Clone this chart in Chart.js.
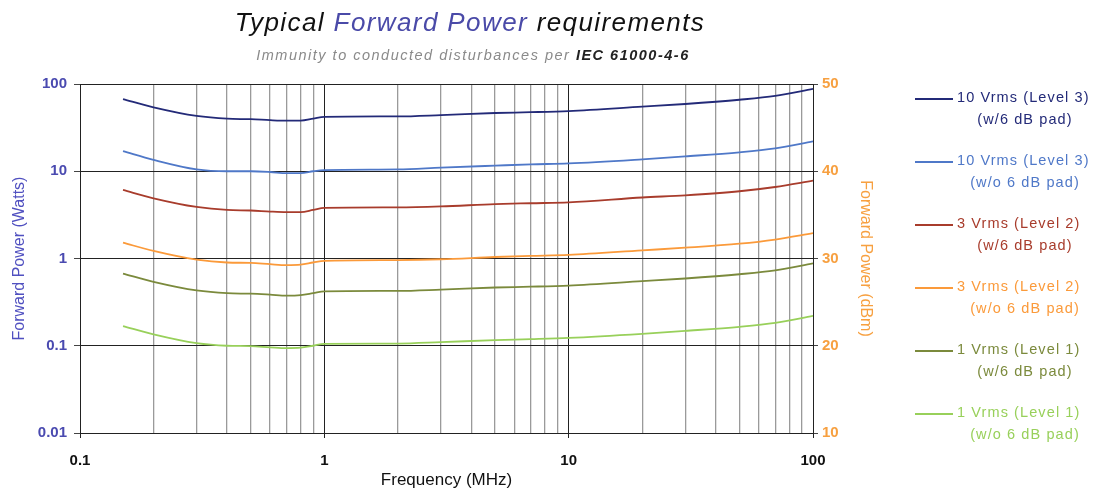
<!DOCTYPE html>
<html><head><meta charset="utf-8">
<script src="https://cdn.jsdelivr.net/npm/chart.js@4/dist/chart.umd.min.js"></script>
<style>
html,body{margin:0;padding:0;background:#fff;width:1101px;height:495px;overflow:hidden;font-family:"Liberation Sans",Arial,sans-serif;}
#wrap{position:absolute;left:0;top:0;width:1101px;height:495px;}
#title{position:absolute;left:0;width:940px;top:7px;text-align:center;font-size:26px;letter-spacing:1.4px;font-style:italic;color:#111;}
#title .b{color:#4a4aa8;}
#sub{position:absolute;left:0;width:946px;top:47px;text-align:center;font-size:14.5px;letter-spacing:1.5px;font-style:italic;color:#8a8a8a;}
#sub b{color:#222;}
#legend{position:absolute;left:915px;top:88px;width:186px;}
.li{position:relative;height:63px;font-size:14.5px;letter-spacing:1.1px;}
.li .ln{position:absolute;left:0;top:10px;width:38px;height:2px;}
.li .t1{position:absolute;left:42px;top:1px;white-space:nowrap;}
.li .t2{position:absolute;left:42px;top:23px;width:136px;text-align:center;white-space:nowrap;}
</style></head>
<body>
<div id="wrap"><canvas id="c" width="1101" height="495"></canvas></div>
<div id="title">Typical <span class="b">Forward Power</span> requirements</div>
<div id="sub">Immunity to conducted disturbances per <b>IEC 61000-4-6</b></div>
<div id="legend"></div>
<script>
// Data (frequency in MHz, forward power in Watts)
const freqMHz = [0.15,0.2,0.3,0.4,0.5,0.6,0.7,0.8,0.9,1,2,3,5,7,10,20,30,50,70,100];
const lvl3With6dB    = [67,54,43,40,39.5,38.5,38,38,40,42,42.5,44,46.5,47.5,49,55,59,66,73,88];
const lvl3Without6dB = [17,13.5,10.5,10,10,9.8,9.5,9.5,10,10.3,10.5,11,11.6,12,12.3,13.7,14.8,16.5,18.3,22];
const lvl2With6dB    = [6.1,4.9,3.9,3.6,3.55,3.45,3.4,3.4,3.6,3.8,3.85,3.95,4.2,4.3,4.4,5.0,5.3,5.9,6.6,7.8];
const lvl2Without6dB = [1.52,1.22,0.97,0.9,0.89,0.86,0.84,0.85,0.9,0.94,0.96,0.98,1.04,1.07,1.1,1.24,1.33,1.48,1.65,1.95];
const lvl1With6dB    = [0.67,0.54,0.43,0.40,0.395,0.385,0.375,0.38,0.40,0.42,0.425,0.44,0.465,0.475,0.49,0.55,0.59,0.66,0.73,0.88];
const lvl1Without6dB = [0.168,0.135,0.107,0.1,0.099,0.096,0.094,0.095,0.1,0.105,0.106,0.11,0.116,0.119,0.123,0.137,0.148,0.165,0.183,0.22];

const seriesNames = [
  ["10 Vrms (Level 3)","(w/6 dB pad)"],
  ["10 Vrms (Level 3)","(w/o 6 dB pad)"],
  ["3 Vrms (Level 2)","(w/6 dB pad)"],
  ["3 Vrms (Level 2)","(w/o 6 dB pad)"],
  ["1 Vrms (Level 1)","(w/6 dB pad)"],
  ["1 Vrms (Level 1)","(w/o 6 dB pad)"]
];
const seriesColors = ["#232a78","#4f78c8","#a83c2c","#fb9a3a","#7b8a3c","#98d05a"];
const seriesData = [lvl3With6dB,lvl3Without6dB,lvl2With6dB,lvl2Without6dB,lvl1With6dB,lvl1Without6dB];

const xTickValues = [0.1,0.2,0.3,0.4,0.5,0.6,0.7,0.8,0.9,1,2,3,4,5,6,7,8,9,10,20,30,40,50,60,70,80,90,100];
const xTickLabels = ["0.1","1","10","100"];
const yTickValues = [0.01,0.1,1,10,100];
const yTickLabels = ["0.01","0.1","1","10","100"];
const dBmTicks = [10,20,30,40,50];

function isDecade(v){const l=Math.log10(v);return Math.abs(l-Math.round(l))<1e-6;}

// legend
const lg=document.getElementById('legend');
seriesNames.forEach((n,i)=>{
  const d=document.createElement('div');d.className='li';d.style.color=seriesColors[i];
  d.innerHTML='<div class="ln" style="background:'+seriesColors[i]+'"></div><div class="t1">'+n[0]+'</div><div class="t2">'+n[1]+'</div>';
  lg.appendChild(d);
});

const datasets = seriesData.map((arr,i)=>({
  label: seriesNames[i].join(' '),
  data: arr.map((v,j)=>({x:freqMHz[j],y:v})),
  borderColor: seriesColors[i],
  backgroundColor: seriesColors[i],
  borderWidth: 1.8,
  pointRadius: 0,
  tension: 0.35,
  cubicInterpolationMode: 'monotone',
  yAxisID: 'y'
}));

const ff = '"Liberation Sans", Arial, sans-serif';
const font = {family:ff, size:15, weight:'bold'};

new Chart(document.getElementById('c'),{
  type:'line',
  data:{datasets},
  options:{
    responsive:false,
    animation:false,
    layout:{padding:{left:6,top:84,right:222,bottom:0}},
    plugins:{legend:{display:false},title:{display:false},tooltip:{enabled:false}},
    scales:{
      x:{
        type:'logarithmic', min:0.1, max:100, position:'bottom',
        afterBuildTicks(s){s.ticks=xTickValues.map(v=>({value:v}));},
        afterFit(s){s.height=62;},
        ticks:{autoSkip:false,maxRotation:0,color:'#111',font,padding:14,
          callback(v){return isDecade(v)? xTickLabels[Math.round(Math.log10(v))+1] : '';}},
        grid:{color:(c)=>isDecade(c.tick.value)?'#222':'#9a9a9a',lineWidth:(c)=>isDecade(c.tick.value)?1:1.3,tickLength:5,
          tickColor:(c)=>isDecade(c.tick.value)?'#222':'rgba(0,0,0,0)'},
        border:{color:'#222',width:1},
        title:{display:true,text:'Frequency (MHz)',color:'#111',font:{family:ff,size:17},padding:{top:0}}
      },
      y:{
        type:'logarithmic', min:0.01, max:100, position:'left',
        afterBuildTicks(s){s.ticks=yTickValues.map(v=>({value:v}));},
        afterFit(s){s.width=74;},
        ticks:{color:'#4a4ab0',font,padding:7,
          callback(v){const i=yTickValues.findIndex(t=>Math.abs(t-v)/t<1e-6);return i>=0?yTickLabels[i]:'';}},
        grid:{color:'#222',lineWidth:1,tickLength:6,tickColor:'#444'},
        border:{color:'#222',width:1},
        title:{display:true,text:'Forward Power (Watts)',color:'#5050c0',font:{family:ff,size:16},padding:{bottom:0}}
      },
      y2:{
        type:'linear', min:10, max:50, position:'right',
        afterBuildTicks(s){s.ticks=dBmTicks.map(v=>({value:v}));},
        afterFit(s){s.width=66;},
        ticks:{color:'#f7a040',font,padding:4},
        grid:{drawOnChartArea:false,tickLength:5,tickColor:'#444'},
        border:{color:'#222',width:1},
        title:{display:true,text:'Forward Power (dBm)',color:'#f7a040',font:{family:ff,size:16},padding:{top:4}}
      }
    }
  }
});
</script>
</body></html>
